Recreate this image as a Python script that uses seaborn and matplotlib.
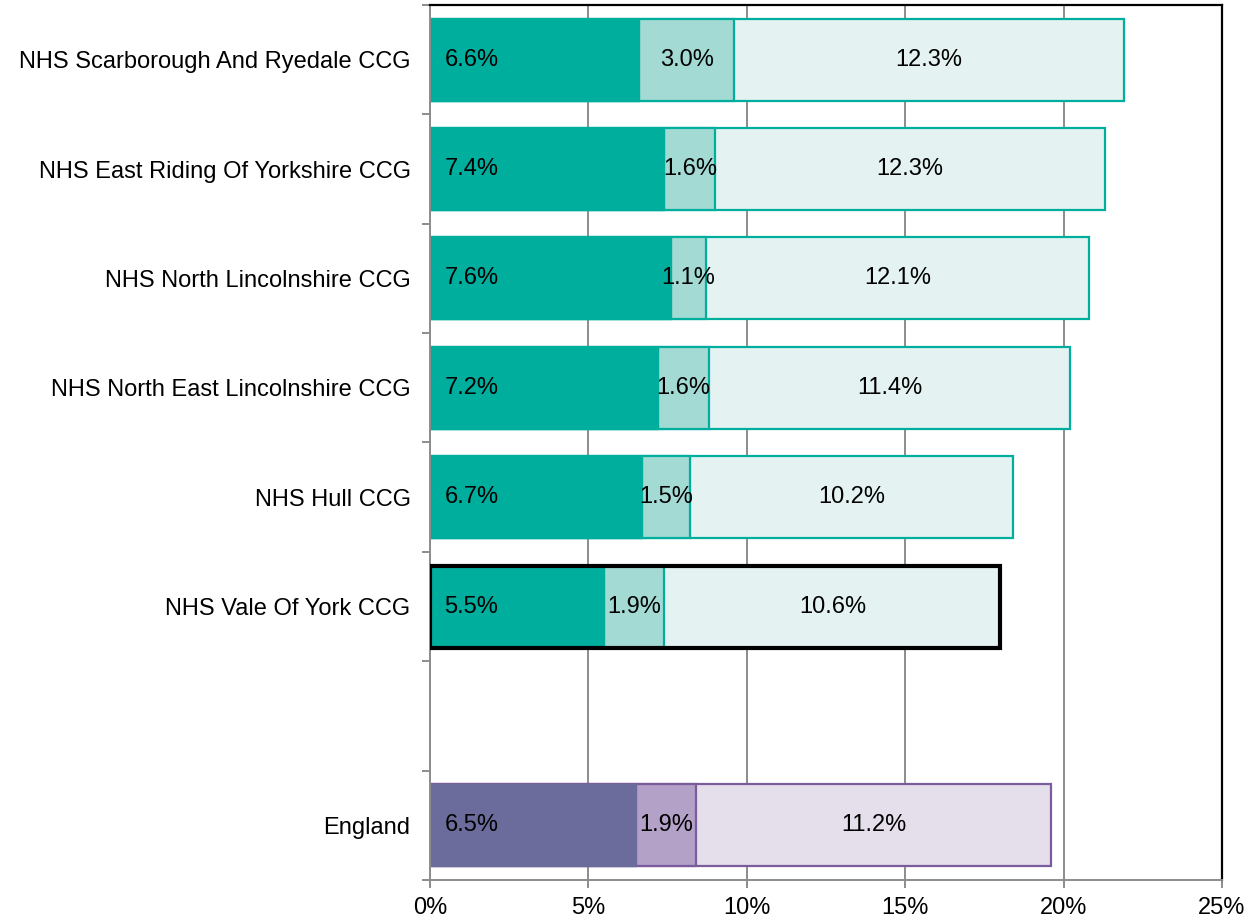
import pandas as pd
import matplotlib.pyplot as plt
import matplotlib.patches as mpatches
import seaborn as sns

# Données (en %)
areas = ["NHS Scarborough And Ryedale CCG", "NHS East Riding Of Yorkshire CCG",
         "NHS North Lincolnshire CCG", "NHS North East Lincolnshire CCG",
         "NHS Hull CCG", "NHS Vale Of York CCG", " ", "England"]
part1 = [6.6, 7.4, 7.6, 7.2, 6.7, 5.5, None, 6.5]
part2 = [3.0, 1.6, 1.1, 1.6, 1.5, 1.9, None, 1.9]
part3 = [12.3, 12.3, 12.1, 11.4, 10.2, 10.6, None, 11.2]
highlight = "NHS Vale Of York CCG"

df = pd.DataFrame({"area": areas, "p1": part1, "p2": part2, "p3": part3}).dropna()
df["c2"] = df["p1"] + df["p2"]
df["c3"] = df["c2"] + df["p3"]

teal = ["#00AE9D", "#A3DAD4", "#E4F3F2", "#00AE9D"]
purple = ["#6C6C9C", "#B3A1C8", "#E5DEEB", "#7A5C9C"]
FS = 17

sns.set_theme(style="white")
plt.rcParams["font.family"] = ["Liberation Sans", "DejaVu Sans"]

fig = plt.figure(figsize=(12.48, 9.19), dpi=100)
ax = fig.add_axes([0.3446, 0.0424, 0.9792 - 0.3446, 0.9946 - 0.0424])

groups = [(df[df["area"] != "England"], teal), (df[df["area"] == "England"], purple)]
outline_patch = None
for sub, cols in groups:
    n0 = len(ax.patches)
    sns.barplot(data=sub, y="area", x="c3", order=areas, color=cols[2],
                edgecolor=cols[3], linewidth=1.6, width=0.75, saturation=1, ax=ax)
    for p in ax.patches[n0:]:
        yc = p.get_y() + p.get_height() / 2
        if abs(yc - areas.index(highlight)) < 0.1:
            outline_patch = p
    sns.barplot(data=sub, y="area", x="c2", order=areas, color=cols[1],
                edgecolor=cols[3], linewidth=1.6, width=0.75, saturation=1, ax=ax)
    sns.barplot(data=sub, y="area", x="p1", order=areas, color=cols[0],
                edgecolor=cols[0], linewidth=1.0, width=0.75, saturation=1, ax=ax)

# Contour noir autour de la barre mise en avant
if outline_patch is not None:
    ax.add_patch(mpatches.Rectangle((outline_patch.get_x(), outline_patch.get_y()),
                                    outline_patch.get_width(), outline_patch.get_height(),
                                    fill=False, edgecolor="black", linewidth=3, zorder=5))

# Étiquettes
for _, r in df.iterrows():
    y = areas.index(r["area"])
    ax.text(0.45, y, f"{r['p1']:.1f}%", ha="left", va="center", fontsize=FS, color="black", zorder=6)
    ax.text(r["p1"] + r["p2"] / 2, y, f"{r['p2']:.1f}%", ha="center", va="center",
            fontsize=FS, color="black", zorder=6)
    ax.text(r["c2"] + r["p3"] / 2, y, f"{r['p3']:.1f}%", ha="center", va="center",
            fontsize=FS, color="black", zorder=6)

ax.set_xlim(0, 25)
ax.set_ylim(len(areas) - 0.5, -0.5)
ax.set_xticks([0, 5, 10, 15, 20, 25])
ax.set_xticklabels(["0%", "5%", "10%", "15%", "20%", "25%"])
ax.set_xlabel("")
ax.set_ylabel("")
ax.xaxis.grid(True, color="#8C8C8C", linewidth=1.4)
ax.set_axisbelow(True)

ax.set_yticks(range(len(areas)))
ax.set_yticklabels(areas)
ax.set_yticks([i - 0.5 for i in range(len(areas) + 1)], minor=True)
ax.tick_params(axis="y", which="major", length=0, pad=14, labelsize=FS, colors="black")
ax.tick_params(axis="y", which="minor", left=True, length=6, width=1.4, color="#8C8C8C")
ax.tick_params(axis="x", bottom=True, length=6, width=1.4, color="#8C8C8C", labelsize=FS,
               labelcolor="black", pad=6)

for s in ["left", "bottom"]:
    ax.spines[s].set_color("#8C8C8C")
    ax.spines[s].set_linewidth(1.4)
for s in ["top", "right"]:
    ax.spines[s].set_color("black")
    ax.spines[s].set_linewidth(1.6)

plt.savefig("out.png", dpi=100)
